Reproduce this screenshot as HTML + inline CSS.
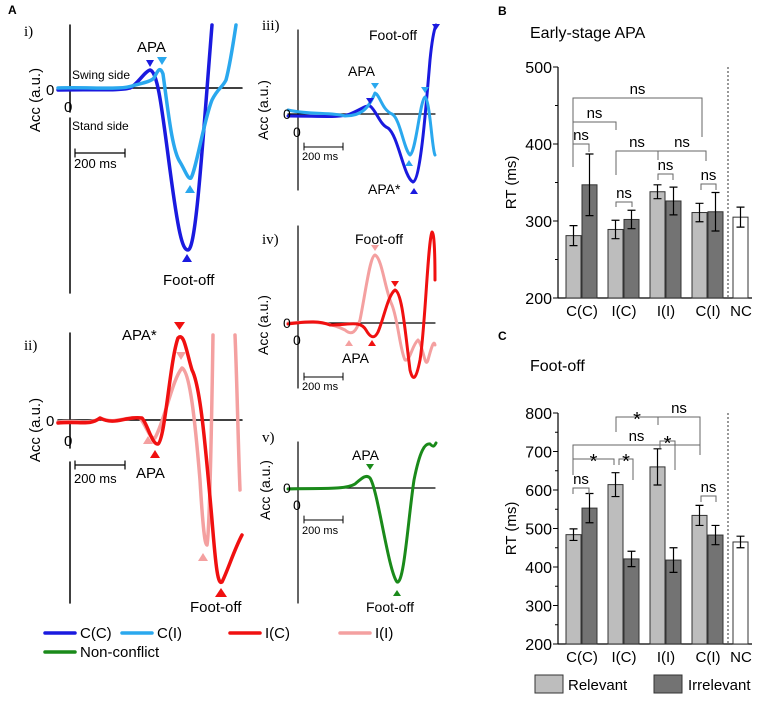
<!DOCTYPE html>
<html><head><meta charset="utf-8"><style>
body{margin:0;background:#fff}
svg{display:block;font-family:"Liberation Sans",sans-serif}
</style></head><body>
<svg id="fig" width="767" height="701" viewBox="0 0 767 701">
<g id="panelA" fill="none" stroke-linecap="round" stroke-linejoin="round">
<text x="8" y="14" font-size="12" font-weight="bold" fill="#000" stroke="none">A</text>
<!-- panel i -->
<g>
<text x="24" y="36" font-family="Liberation Serif" font-size="15" fill="#000" stroke="none">i)</text>
<line x1="70" y1="25" x2="70" y2="112" stroke="#000" stroke-width="1.5"/>
<line x1="70" y1="118" x2="70" y2="293" stroke="#000" stroke-width="1.5"/>
<line x1="58" y1="88" x2="242" y2="88" stroke="#000" stroke-width="1.5"/>
<path d="M58,90 C90,89 120,91 130,88 C138,84 144,72 150,70 C158,72 162,110 170,170 C178,230 182,250 188,250 C196,250 202,150 212,25" stroke="#1a1adf" stroke-width="3.5"/>
<path d="M58,88 C90,87 120,90 132,86 C142,83 150,82 154,78 C158,70 160,66 163,74 C168,110 172,150 180,162 C185,170 188,180 191,178 C196,170 204,120 212,100 C218,88 222,88 226,80 C230,65 233,45 236,25" stroke="#2aa8ee" stroke-width="3.5"/>
<path d="M146,60 l8,0 l-4,7z" fill="#1a1adf" stroke="none"/><path d="M157,57 l10,0 l-5,8z" fill="#2aa8ee" stroke="none"/>
<path d="M185,193 l10,0 l-5,-8z" fill="#2aa8ee" stroke="none"/><path d="M182,262 l10,0 l-5,-8z" fill="#1a1adf" stroke="none"/>
<g fill="#000" stroke="none" font-size="12">
<text x="137" y="52" font-size="15">APA</text>
<text x="72" y="79">Swing side</text>
<text x="46" y="95" font-size="15">0</text><text x="64" y="112" font-size="15">0</text>
<text x="72" y="130">Stand side</text>
<text x="74" y="168" font-size="13">200 ms</text>
<text x="163" y="285" font-size="15">Foot-off</text>
<text transform="translate(40,100) rotate(-90)" text-anchor="middle" font-size="15">Acc (a.u.)</text>
</g>
<path d="M75,149 v8 M75,153 H125 M125,149 v8" stroke="#000" stroke-width="1.2"/>
</g>
<!-- panel ii -->
<g>
<text x="24" y="350" font-family="Liberation Serif" font-size="15" fill="#000" stroke="none">ii)</text>
<line x1="70" y1="333" x2="70" y2="448" stroke="#000" stroke-width="1.5"/>
<line x1="70" y1="462" x2="70" y2="603" stroke="#000" stroke-width="1.5"/>
<line x1="58" y1="420" x2="242" y2="420" stroke="#000" stroke-width="1.5"/>
<path d="M58,422 C80,420 90,425 100,418 C115,425 125,416 140,418 C146,425 150,440 155,438 C165,420 172,380 182,368 C190,372 195,420 200,480 C203,530 205,545 207,545 C210,530 212,400 213,335 M235,335 C237,380 238,440 240,490" stroke="#f4a0a0" stroke-width="3.5"/>
<path d="M58,423 C80,421 90,426 100,418 C115,426 125,416 142,418 C148,425 152,445 158,444 C165,440 170,360 178,338 C184,332 186,350 192,370 C200,385 205,440 212,520 C216,570 218,585 222,582 C228,570 234,550 242,535" stroke="#f01010" stroke-width="3.5"/>
<path d="M174,322 l11,0 l-5.5,8z" fill="#f01010" stroke="none"/><path d="M176,352 l10,0 l-5,8z" fill="#f4a0a0" stroke="none"/>
<path d="M143,444 l10,0 l-5,-8z" fill="#f4a0a0" stroke="none"/><path d="M150,458 l10,0 l-5,-8z" fill="#f01010" stroke="none"/>
<path d="M198,561 l10,0 l-5,-8z" fill="#f4a0a0" stroke="none"/><path d="M215,597 l12,0 l-6,-9z" fill="#f01010" stroke="none"/>
<g fill="#000" stroke="none" font-size="15">
<text x="122" y="340">APA*</text><text x="136" y="478">APA</text>
<text x="46" y="426">0</text><text x="64" y="446">0</text>
<text x="74" y="483" font-size="13">200 ms</text>
<text x="190" y="612">Foot-off</text>
<text transform="translate(40,430) rotate(-90)" text-anchor="middle">Acc (a.u.)</text>
</g>
<path d="M75,461 v8 M75,465 H125 M125,461 v8" stroke="#000" stroke-width="1.2"/>
</g>
<!-- panel iii -->
<g>
<text x="262" y="30" font-family="Liberation Serif" font-size="15" fill="#000" stroke="none">iii)</text>
<line x1="298" y1="30" x2="298" y2="190" stroke="#000" stroke-width="1.2"/>
<line x1="288" y1="114" x2="435" y2="114" stroke="#000" stroke-width="1.2"/>
<path d="M288,116 C320,116 340,118 350,114 C360,110 366,105 370,106 C376,110 380,125 388,128 C398,135 404,178 413,182 C420,180 425,120 430,60 C432,40 434,30 436,25" stroke="#1a1adf" stroke-width="3"/>
<path d="M288,110 C310,115 330,112 345,116 C360,116 368,110 375,93 C380,95 382,110 392,114 C400,118 404,150 410,155 C416,152 420,100 425,97 C430,100 432,150 435,155" stroke="#2aa8ee" stroke-width="3"/>
<path d="M371,83 l8,0 l-4,6z" fill="#2aa8ee" stroke="none"/><path d="M366,98 l8,0 l-4,6z" fill="#1a1adf" stroke="none"/>
<path d="M421,87 l8,0 l-4,6z" fill="#2aa8ee" stroke="none"/><path d="M432,24 l8,0 l-4,6z" fill="#1a1adf" stroke="none"/>
<path d="M405,166 l8,0 l-4,-6z" fill="#2aa8ee" stroke="none"/><path d="M410,194 l8,0 l-4,-6z" fill="#1a1adf" stroke="none"/>
<g fill="#000" stroke="none" font-size="14">
<text x="369" y="40">Foot-off</text><text x="348" y="76">APA</text><text x="368" y="194">APA*</text>
<text x="283" y="119">0</text><text x="293" y="137">0</text>
<text x="302" y="160" font-size="11">200 ms</text>
<text transform="translate(268,110) rotate(-90)" text-anchor="middle">Acc (a.u.)</text>
</g>
<path d="M304,143 v7 M304,147 H343 M343,143 v7" stroke="#000" stroke-width="1"/>
</g>
<!-- panel iv -->
<g>
<text x="262" y="244" font-family="Liberation Serif" font-size="15" fill="#000" stroke="none">iv)</text>
<line x1="298" y1="226" x2="298" y2="388" stroke="#000" stroke-width="1.2"/>
<line x1="288" y1="323" x2="435" y2="323" stroke="#000" stroke-width="1.2"/>
<path d="M288,323 C320,320 335,325 345,330 C352,336 356,332 360,320 C366,290 370,256 375,255 C382,258 385,290 392,305 C398,320 400,350 405,360 C410,362 412,345 418,340 C423,345 425,370 428,360 C432,345 434,340 435,345" stroke="#f4a0a0" stroke-width="3"/>
<path d="M288,324 C310,321 320,321 330,325 C350,325 360,320 366,330 C370,337 374,340 378,332 C384,318 388,295 395,290 C402,292 405,330 410,370 C413,382 416,380 420,360 C425,330 428,240 432,232 C434,232 435,250 435,280" stroke="#f01010" stroke-width="3"/>
<path d="M371,245 l8,0 l-4,6z" fill="#f4a0a0" stroke="none"/><path d="M391,281 l8,0 l-4,6z" fill="#f01010" stroke="none"/>
<path d="M345,346 l8,0 l-4,-6z" fill="#f4a0a0" stroke="none"/><path d="M368,346 l8,0 l-4,-6z" fill="#f01010" stroke="none"/>
<g fill="#000" stroke="none" font-size="14">
<text x="355" y="244">Foot-off</text><text x="342" y="363">APA</text>
<text x="283" y="328">0</text><text x="293" y="345">0</text>
<text x="302" y="390" font-size="11">200 ms</text>
<text transform="translate(268,325) rotate(-90)" text-anchor="middle">Acc (a.u.)</text>
</g>
<path d="M304,373 v7 M304,377 H343 M343,373 v7" stroke="#000" stroke-width="1"/>
</g>
<!-- panel v -->
<g>
<text x="262" y="442" font-family="Liberation Serif" font-size="15" fill="#000" stroke="none">v)</text>
<line x1="298" y1="442" x2="298" y2="603" stroke="#000" stroke-width="1.2"/>
<line x1="288" y1="488" x2="435" y2="488" stroke="#000" stroke-width="1.2"/>
<path d="M288,489 C320,488 345,490 355,484 C362,478 366,474 370,478 C378,490 388,570 397,582 C404,585 408,520 414,480 C420,450 425,443 430,444 C433,447 434,447 436,443" stroke="#1a8a1a" stroke-width="3"/>
<path d="M366,464 l8,0 l-4,6z" fill="#1a8a1a" stroke="none"/><path d="M393,596 l8,0 l-4,-6z" fill="#1a8a1a" stroke="none"/>
<g fill="#000" stroke="none" font-size="14">
<text x="352" y="460">APA</text><text x="366" y="612">Foot-off</text>
<text x="283" y="493">0</text><text x="293" y="510">0</text>
<text x="302" y="534" font-size="11">200 ms</text>
<text transform="translate(270,490) rotate(-90)" text-anchor="middle">Acc (a.u.)</text>
</g>
<path d="M304,516 v7 M304,520 H343 M343,516 v7" stroke="#000" stroke-width="1"/>
</g>
<!-- legend A -->
<g font-size="15" stroke="none" fill="#000">
<line x1="45" y1="633" x2="75" y2="633" stroke="#1a1adf" stroke-width="3.5"/><text x="80" y="638">C(C)</text>
<line x1="122" y1="633" x2="152" y2="633" stroke="#2aa8ee" stroke-width="3.5"/><text x="157" y="638">C(I)</text>
<line x1="230" y1="633" x2="260" y2="633" stroke="#f01010" stroke-width="3.5"/><text x="265" y="638">I(C)</text>
<line x1="340" y1="633" x2="370" y2="633" stroke="#f4a0a0" stroke-width="3.5"/><text x="375" y="638">I(I)</text>
<line x1="45" y1="652" x2="75" y2="652" stroke="#1a8a1a" stroke-width="3.5"/><text x="80" y="657">Non-conflict</text>
</g>
</g>
<g id="panelB"></g>
<g id="panelC"></g>
</svg>
<script>
const categories = ["C(C)", "I(C)", "I(I)", "C(I)"];
const bRelevant = [281, 289, 338, 311];
const bIrrelevant = [347, 302, 326, 312];
const bRelErr = [13, 12, 9, 12];
const bIrrErr = [40, 12, 18, 25];
const bNC = 305, bNCErr = 13;
const bTicks = [200, 300, 400, 500];
const cRelevant = [484, 614, 660, 534];
const cIrrelevant = [553, 421, 418, 483];
const cRelErr = [15, 31, 47, 26];
const cIrrErr = [38, 20, 32, 25];
const cNC = 465, cNCErr = 15;
const cTicks = [200, 300, 400, 500, 600, 700, 800];
const NS = "http://www.w3.org/2000/svg";
function mk(parent, tag, attrs, text){const e=document.createElementNS(NS,tag);for(const k in attrs)e.setAttribute(k,attrs[k]);if(text!==undefined)e.textContent=text;parent.appendChild(e);return e;}
function drawPanel(g, cfg){
  const y = v => cfg.y0 - (v - cfg.vmin) * (cfg.y0 - cfg.y1) / (cfg.vmax - cfg.vmin);
  const xRel = i => 566 + i * 42;
  const xIrr = i => 582 + i * 42;
  const W = 15;
  const t = mk(g,'text',{x:498,y:cfg.lblY,'font-size':12,'font-weight':'bold'},cfg.letter);
  
  
  const tt = mk(g,'text',{x:530,y:cfg.titleY,'font-size':16},cfg.title);
  
  
  const yl = mk(g,'text',{transform:`translate(516,${(cfg.y0+cfg.y1)/2}) rotate(-90)`,'text-anchor':'middle','font-size':15},'RT (ms)');
  
  
  mk(g,'line',{x1:558,y1:cfg.y1,x2:558,y2:cfg.y0,stroke:'#000','stroke-width':1.2});
  mk(g,'line',{x1:558,y1:cfg.y0,x2:752,y2:cfg.y0,stroke:'#000','stroke-width':1.2});
  mk(g,'line',{x1:728,y1:cfg.y1,x2:728,y2:cfg.y0,stroke:'#000','stroke-width':0.8,'stroke-dasharray':'2,2'});
  cfg.ticks.forEach((v,i)=>{
    mk(g,'line',{x1:553,y1:y(v),x2:558,y2:y(v),stroke:'#000'});
    if(i<cfg.ticks.length-1) mk(g,'line',{x1:555,y1:y(v+50),x2:558,y2:y(v+50),stroke:'#000'});
    const tl = mk(g,'text',{x:552,y:y(v)+6,'text-anchor':'end','font-size':16},String(v));
    
    
  });
  function bar(x,v,e,fill,name){
    const r = mk(g,'rect',{x:x,y:y(v),width:W,height:cfg.y0-y(v),fill:fill,stroke:'#333','stroke-width':1});
    
    
    const cx=x+W/2;
    mk(g,'path',{d:`M${cx},${y(v+e)}V${y(v-e)}M${cx-4},${y(v+e)}H${cx+4}M${cx-4},${y(v-e)}H${cx+4}`,stroke:'#000','stroke-width':1.2,fill:'none'});
  }
  categories.forEach((c,i)=>{
    bar(xRel(i),cfg.rel[i],cfg.relErr[i],'#bdbdbd','bar-relevant-'+c);
    bar(xIrr(i),cfg.irr[i],cfg.irrErr[i],'#737373','bar-irrelevant-'+c);
    const xl = mk(g,'text',{x:xRel(i)+16,y:cfg.y0+18,'text-anchor':'middle','font-size':15},c);
    
    
  });
  bar(733,cfg.nc,cfg.ncErr,'#fff','bar-non-conflict');
  const nl = mk(g,'text',{x:741,y:cfg.y0+18,'text-anchor':'middle','font-size':15},'NC');
  
  
  cfg.brackets.forEach(b=>{
    mk(g,'path',{d:`M${b[0]},${b[3]}V${b[2]}H${b[1]}V${b[4]}`,stroke:'#666','stroke-width':1,fill:'none'});
    const s = mk(g,'text',{x:(b[0]+b[1])/2,y:b[2]-(b[5]==='*'?-9:4),'text-anchor':'middle','font-size':b[5]==='*'?20:15},b[5]);
    
    
  });
}
drawPanel(document.getElementById('panelB'),{letter:'B',title:'Early-stage APA',lblY:15,titleY:38,y0:298,y1:67,vmin:200,vmax:500,ticks:bTicks,
 rel:bRelevant,irr:bIrrelevant,relErr:bRelErr,irrErr:bIrrErr,nc:bNC,ncErr:bNCErr,
 brackets:[[573,702,98,167,137,'ns'],[573,616,122,137,130,'ns'],[573,589,144,167,152,'ns'],[616,658,151,175,160,'ns'],[658,706,151,160,161,'ns'],[658,673,174,180,180,'ns'],[616,632,202,207,207,'ns'],[701,716,184,190,190,'ns']]});
drawPanel(document.getElementById('panelC'),{letter:'C',title:'Foot-off',lblY:340,titleY:371,y0:644,y1:413,vmin:200,vmax:800,ticks:cTicks,
 rel:cRelevant,irr:cIrrelevant,relErr:cRelErr,irrErr:cIrrErr,nc:cNC,ncErr:cNCErr,
 brackets:[[573,700,445,475,455,'ns'],[616,658,417,432,425,'*'],[658,700,417,425,455,'ns'],[573,614,459,473,465,'*'],[619,633,459,465,480,'*'],[660,675,441,448,470,'*'],[573,589,488,494,494,'ns'],[701,716,496,502,502,'ns']]});
const lg = document.getElementById('panelC');
const l1 = mk(lg,'rect',{x:535,y:675,width:28,height:18,fill:'#bdbdbd',stroke:'#333'});


mk(lg,'text',{x:568,y:690,'font-size':15},'Relevant');
const l2 = mk(lg,'rect',{x:654,y:675,width:28,height:18,fill:'#737373',stroke:'#333'});


mk(lg,'text',{x:688,y:690,'font-size':15},'Irrelevant');
</script>
</body></html>
